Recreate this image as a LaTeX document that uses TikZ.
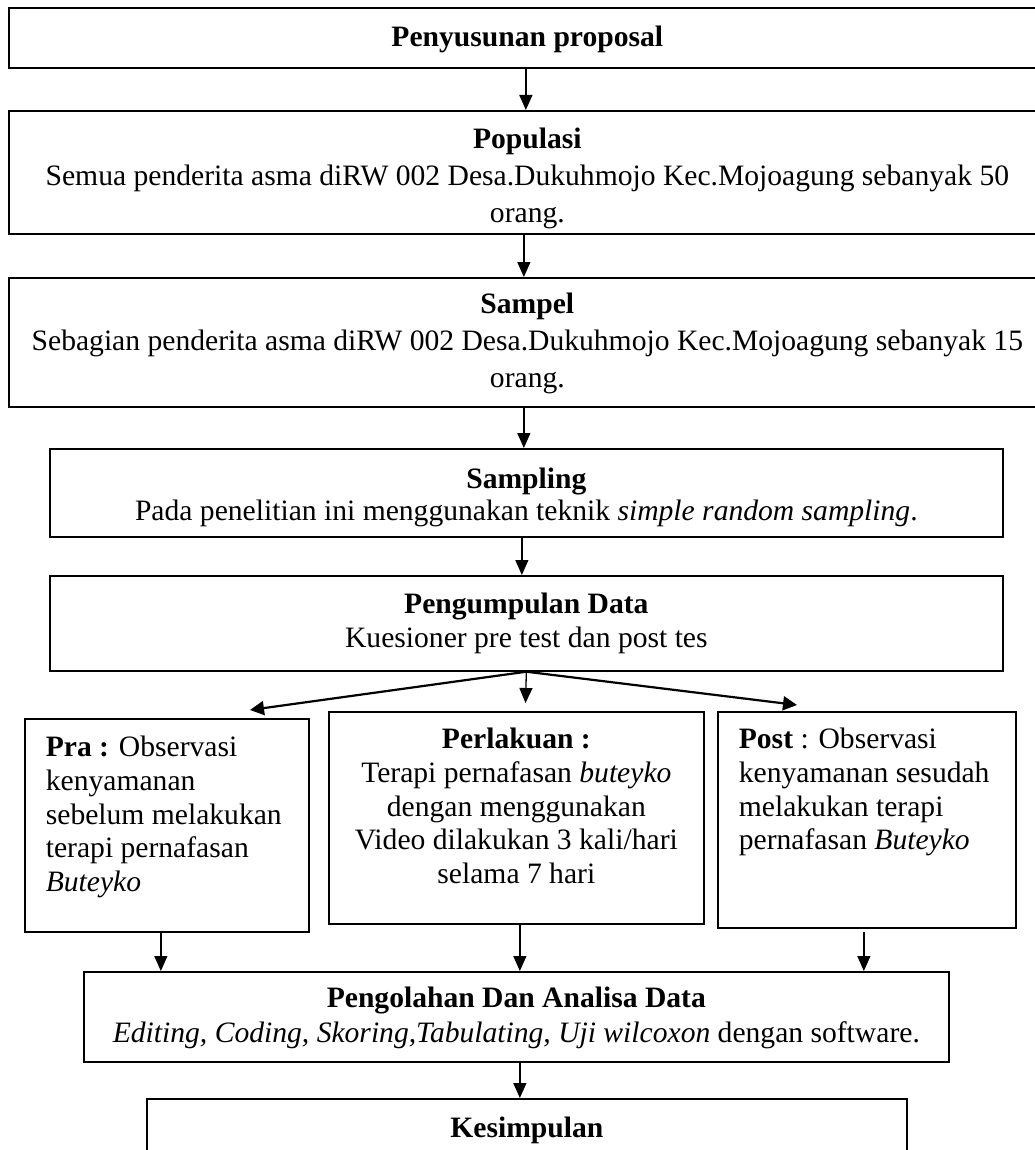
\documentclass[tikz,border=0pt]{standalone}
\usepackage{fontspec}
\setmainfont{Liberation Serif}
\usetikzlibrary{arrows.meta}
\newcommand{\lnstrut}{\rule[-0.3\baselineskip]{0pt}{\baselineskip}}
% #1 width, #2 height, #3 top space, #4 baselineskip, #5 content (centered)
\newcommand{\cbox}[5]{\parbox[c][#2][t]{#1}{\vspace*{#3}\fontsize{29.6}{#4}\selectfont\centering #5\par}}
% left aligned with padding
\newcommand{\lbox}[5]{\parbox[c][#2][t]{#1}{\vspace*{#3}\fontsize{29.6}{#4}\selectfont\raggedright\leftskip=21pt #5\par}}
\tikzset{
  flowbox/.style={draw, line width=1.7pt, inner sep=0pt, anchor=north west},
  arr/.style={draw, line width=1.3pt, -{Triangle[length=15pt,width=13pt]}},
  darr/.style={draw, line width=2.2pt, -{Triangle[length=14pt,width=14pt]}}
}
\begin{document}
\begin{tikzpicture}[x=1pt,y=-1pt]
\useasboundingbox (0,0) rectangle (1035,1150);
\fill[white] (0,0) rectangle (1035,1150);

\node[flowbox] (prop) at (8,7) {\cbox{1037pt}{60pt}{15.2pt}{34pt}{\lnstrut\textbf{Penyusunan proposal}}};
\node[flowbox] (pop) at (8,110) {\cbox{1037pt}{123pt}{12.1pt}{37pt}{\lnstrut\textbf{Populasi}\\\lnstrut Semua penderita asma diRW 002 Desa.Dukuhmojo Kec.Mojoagung sebanyak 50\\\lnstrut orang.}};
\node[flowbox] (samp) at (8,277) {\cbox{1037pt}{129pt}{10.1pt}{37pt}{\lnstrut\textbf{Sampel}\\\lnstrut Sebagian penderita asma diRW 002 Desa.Dukuhmojo Kec.Mojoagung sebanyak 15\\\lnstrut orang.}};
\node[flowbox] (smpl) at (49,448) {\cbox{953pt}{88pt}{17.6pt}{32pt}{\lnstrut\textbf{Sampling}\\\lnstrut Pada penelitian ini menggunakan teknik \textit{simple random sampling}.}};
\node[flowbox] (data) at (49,575) {\cbox{953pt}{95pt}{14.2pt}{34pt}{\lnstrut\textbf{Pengumpulan Data}\\\lnstrut Kuesioner pre test dan post tes}};
\node[flowbox] (pra) at (24,718) {\lbox{284pt}{213pt}{14.4pt}{33.7pt}{\lnstrut\textbf{Pra :} Observasi\\\lnstrut kenyamanan\\\lnstrut sebelum melakukan\\\lnstrut terapi pernafasan\\\lnstrut\textit{Buteyko}}};
\node[flowbox] (perl) at (328,711) {\cbox{375pt}{212pt}{13.4pt}{33.7pt}{\lnstrut\textbf{Perlakuan :}\\\lnstrut Terapi pernafasan \textit{buteyko}\\\lnstrut dengan menggunakan\\\lnstrut Video dilakukan 3 kali/hari\\\lnstrut selama 7 hari}};
\node[flowbox] (post) at (717,711) {\lbox{298pt}{216pt}{13.4pt}{33.7pt}{\lnstrut\textbf{Post} : Observasi\\\lnstrut kenyamanan sesudah\\\lnstrut melakukan terapi\\\lnstrut pernafasan \textit{Buteyko}}};
\node[flowbox] (proc) at (83,971) {\cbox{865pt}{90pt}{11.5pt}{35pt}{\lnstrut\textbf{Pengolahan Dan Analisa Data}\\\lnstrut\textit{Editing, Coding, Skoring,Tabulating, Uji wilcoxon} dengan software.}};
\node[flowbox] (kes) at (146,1098) {\cbox{760pt}{110pt}{15.2pt}{34pt}{\lnstrut\textbf{Kesimpulan}}};

\coordinate (tipL) at (250,710);
\coordinate (tipC) at (525.5,703);
\coordinate (tipR) at (797,705);

\draw[arr] ([xshift=-1.5pt]prop.south) -- ([xshift=-1.5pt]pop.north);
\draw[arr] ([xshift=-3.5pt]pop.south) -- ([xshift=-3.5pt]samp.north);
\draw[arr] ([xshift=-3.5pt]samp.south) -- ([xshift=-2.5pt]smpl.north);
\draw[arr] ([xshift=-4.5pt]smpl.south) -- ([xshift=-4.5pt]data.north);
\draw[darr] (data.south) -- (tipL);
\draw[arr] (data.south) -- (tipC);
\draw[darr] (data.south) -- (tipR);
\draw[arr] ([xshift=-6pt]pra.south) -- ([xshift=-6pt]pra.south |- proc.north);
\draw[arr] ([xshift=3.5pt]perl.south) -- ([xshift=3.5pt]perl.south |- proc.north);
\draw[arr] ([xshift=-3pt,yshift=-3pt]post.south) -- ([xshift=-3pt]post.south |- proc.north);
\draw[arr] ([xshift=3.5pt]proc.south) -- ([xshift=3.5pt]proc.south |- kes.north);
\end{tikzpicture}
\end{document}
